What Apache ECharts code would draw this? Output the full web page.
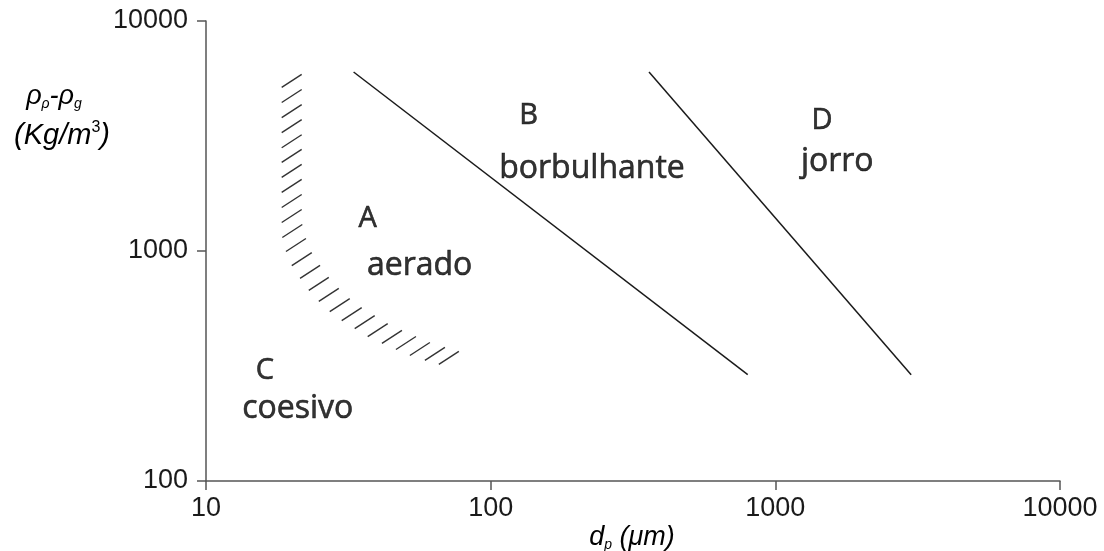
<!DOCTYPE html>
<html><head><meta charset="utf-8">
<script src="https://cdn.jsdelivr.net/npm/echarts@6/dist/echarts.min.js"></script>
<style>html,body{margin:0;padding:0;background:#fff}#c{width:1104px;height:551px}</style>
</head><body><div id="c"></div>
<script>
// Axis ticks
const xTicks = [10, 100, 1000, 10000];
const yTicks = [100, 1000, 10000];
// Boundary lines (d_p in µm, rho_p - rho_g in kg/m3)
const lineB = [[33, 6000], [800, 290]];
const lineD = [[360, 6000], [3000, 290]];
// Hatched A/C boundary
const hatchD = [20, 20, 20, 20, 20, 20, 20, 20, 20, 20, 20.1, 20.7, 21.7, 23.2, 24.9, 27.0, 29.5, 32.5, 36.1, 40.1, 45.0, 50.4, 56.4, 63.7, 71.3];
const hatchRho = [5490, 4720, 4060, 3490, 3000, 2590, 2230, 1920, 1650, 1420, 1222, 1062, 922, 811, 719, 645, 582, 532, 491, 453, 423, 398, 375, 357, 343];
// Region labels
const letterNames = ['A', 'B', 'C', 'D'];
const letterD = [37, 136, 16.1, 1460];
const letterRho = [1375, 3860, 302, 3670];
const wordNames = ['aerado', 'borbulhante', 'coesivo', 'jorro'];
const wordD = [56.3, 227, 21.0, 1650];
const wordRho = [860, 2270, 206, 2440];

const chart = echarts.init(document.getElementById('c'));
const axisCol = '#555';
const txtCol = '#1a1a1a';
const option = {
  animation: false,
  backgroundColor: '#fff',
  grid: { left: 206, right: 44, top: 21, bottom: 70 },
  xAxis: {
    type: 'log', logBase: 10, min: xTicks[0], max: xTicks[xTicks.length - 1],
    axisLine: { show: true, lineStyle: { color: axisCol, width: 1.5 } },
    axisTick: { show: true, length: 9, lineStyle: { color: axisCol, width: 1.5 } },
    minorTick: { show: false },
    splitLine: { show: false },
    axisLabel: { fontFamily: 'Liberation Sans', fontSize: 27, color: txtCol, margin: 14,
      formatter: v => String(Math.round(v)) }
  },
  yAxis: {
    type: 'log', logBase: 10, min: yTicks[0], max: yTicks[yTicks.length - 1],
    axisLine: { show: true, lineStyle: { color: axisCol, width: 1.5 } },
    axisTick: { show: true, length: 9, lineStyle: { color: axisCol, width: 1.5 } },
    minorTick: { show: false },
    splitLine: { show: false },
    axisLabel: { fontFamily: 'Liberation Sans', fontSize: 27, color: txtCol, margin: 18,
      formatter: v => String(Math.round(v)) }
  },
  graphic: [
    { type: 'text', x: 54, y: 96, style: {
        text: '{m|ρ}{s|ρ}{m|-ρ}{s|g}', align: 'center', verticalAlign: 'middle',
        rich: {
          m: { fontFamily: 'Liberation Sans', fontStyle: 'italic', fontSize: 27, lineHeight: 30, color: txtCol, verticalAlign: 'middle' },
          s: { fontFamily: 'Liberation Sans', fontStyle: 'italic', fontSize: 14, lineHeight: 14, color: txtCol, verticalAlign: 'bottom' }
        } } },
    { type: 'text', x: 62, y: 136, style: {
        text: '{m|(Kg/m}{u|3}{m|)}', align: 'center', verticalAlign: 'middle',
        rich: {
          m: { fontFamily: 'Liberation Sans', fontStyle: 'italic', fontSize: 29, lineHeight: 33, color: txtCol, verticalAlign: 'middle' },
          u: { fontFamily: 'Liberation Sans', fontSize: 16, lineHeight: 16, color: txtCol, verticalAlign: 'top' }
        } } },
    { type: 'text', x: 632, y: 537, style: {
        text: '{m|d}{s|p}{m| (μm)}', align: 'center', verticalAlign: 'middle',
        rich: {
          m: { fontFamily: 'Liberation Sans', fontStyle: 'italic', fontSize: 27, lineHeight: 30, color: txtCol, verticalAlign: 'middle' },
          s: { fontFamily: 'Liberation Sans', fontStyle: 'italic', fontSize: 14, lineHeight: 14, color: txtCol, verticalAlign: 'bottom' }
        } } }
  ],
  series: [
    { type: 'line', data: lineB, symbol: 'none', lineStyle: { color: '#1a1a1a', width: 1.5 } },
    { type: 'line', data: lineD, symbol: 'none', lineStyle: { color: '#1a1a1a', width: 1.5 } },
    { type: 'custom', data: hatchD.map((d, i) => [d, hatchRho[i]]),
      renderItem: (params, api) => {
        const p = api.coord([api.value(0), api.value(1)]);
        return { type: 'line', shape: { x1: p[0] - 10, y1: p[1] + 6.5, x2: p[0] + 10, y2: p[1] - 6.5 },
          style: { stroke: '#333', lineWidth: 1.4 } };
      } },
    { type: 'scatter', symbolSize: 1, itemStyle: { color: 'rgba(0,0,0,0)' },
      data: letterNames.map((n, i) => ({ name: n, value: [letterD[i], letterRho[i]] })),
      label: { show: true, position: 'inside', formatter: p => p.name,
        fontFamily: 'Open Sans', fontSize: 29, color: '#000', textBorderColor: '#000', textBorderWidth: 0.6 } },
    { type: 'scatter', symbolSize: 1, itemStyle: { color: 'rgba(0,0,0,0)' },
      data: wordNames.map((n, i) => ({ name: n, value: [wordD[i], wordRho[i]] })),
      label: { show: true, position: 'inside', formatter: p => p.name,
        fontFamily: 'Open Sans', fontSize: 32, color: '#000', textBorderColor: '#000', textBorderWidth: 0.6 } }
  ]
};
chart.setOption(option);
</script></body></html>
